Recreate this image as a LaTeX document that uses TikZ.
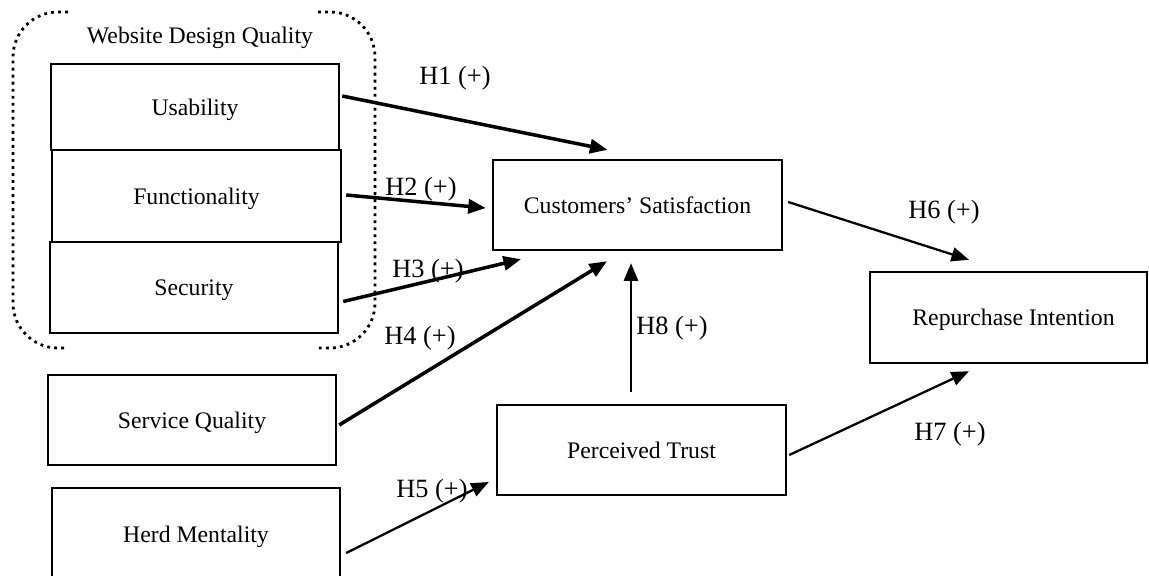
\documentclass[tikz,border=0pt]{standalone}
\usepackage{fontspec}
\setmainfont{Liberation Serif}
\usetikzlibrary{arrows.meta}
\begin{document}
\begin{tikzpicture}[x=0.02cm, y=-0.02cm,
	box/.style={draw, line width=1.4pt, minimum width=5.76cm, minimum height=1.8cm, inner sep=0pt, text depth=0pt, font=\fontsize{13.5}{16}\selectfont},
	hyp/.style={-{Triangle[length=10pt,width=8pt]}, line width=2pt},
	hypthin/.style={-{Triangle[length=10pt,width=8pt]}, line width=1.3pt},
	lbl/.style={font=\fontsize{15}{18}\selectfont, inner sep=0pt},
	grp/.style={line width=1.6pt, dash pattern=on 1.6pt off 2.4pt, rounded corners=0.9cm}]
	\useasboundingbox (0,0) rectangle (1149,575);
	% website design quality group
	\draw[grp] (68,12) -- (13,12) -- (13,348) -- (68,348);
	\draw[grp] (318,12) -- (375,12) -- (375,348) -- (318,348);
	\node[font=\fontsize{13.5}{16}\selectfont] (wdq) at (200,38) {Website Design Quality};
	\node[box, minimum height=1.72cm] (use) at (195,107) {Usability};
	\node[box, minimum width=5.78cm, minimum height=1.84cm] (fun) at (196.5,196) {Functionality};
	\node[box, minimum height=1.82cm] (sec) at (194,287.5) {Security};
	% other constructs
	\node[box] (srv) at (192,420) {Service Quality};
	\node[box, minimum height=1.84cm] (herd) at (196,534) {Herd Mentality};
	\node[box, minimum width=5.78cm] (sat) at (637.5,205) {Customers’ Satisfaction};
	\node[box, minimum width=5.78cm] (trust) at (641.5,450) {Perceived Trust};
	\node[box, minimum width=5.54cm, minimum height=1.82cm] (rep) at (1008.5,317.5) {\hspace*{0.2cm}Repurchase Intention};
	% hypotheses
	\draw[hyp] ([shift={(2,-11)}]use.east) -- ([shift={(-30,-9)}]sat.north);
	\draw[hyp] ([shift={(4,-1)}]fun.east) -- ([shift={(-6,3)}]sat.west);
	\draw[hyp] ([shift={(4,14)}]sec.east) -- ([shift={(-116.5,8)}]sat.south);
	\draw[hyp] ([shift={(2,5)}]srv.east) -- ([shift={(-30.5,10)}]sat.south);
	\draw[hypthin] ([shift={(5,19)}]herd.east) -- ([shift={(-7,32)}]trust.west);
	\draw[hypthin] ([shift={(5,-3)}]sat.east) -- ([shift={(-39.5,-11)}]rep.north);
	\draw[hypthin] ([shift={(2,5)}]trust.east) -- ([shift={(-39.5,7)}]rep.south);
	\draw[hypthin] ([shift={(-10.5,-12)}]trust.north) -- ([shift={(-6.5,12)}]sat.south);
	% labels
	\node[lbl] (h1) at (455,78) {H1 (+)};
	\node[lbl] (h2) at (421,189) {H2 (+)};
	\node[lbl] (h3) at (428,271) {H3 (+)};
	\node[lbl] (h4) at (420,338) {H4 (+)};
	\node[lbl] (h5) at (432,491) {H5 (+)};
	\node[lbl] (h6) at (944,212) {H6 (+)};
	\node[lbl] (h7) at (950,434) {H7 (+)};
	\node[lbl] (h8) at (672,328) {H8 (+)};
\end{tikzpicture}
\end{document}
